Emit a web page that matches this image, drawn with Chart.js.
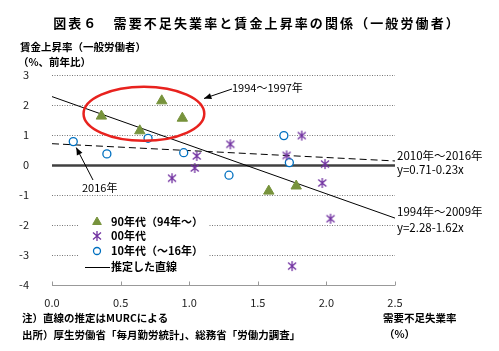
<!DOCTYPE html>
<html>
<head>
<meta charset="utf-8">
<script src="https://cdn.jsdelivr.net/npm/chart.js@4"></script>
<style>
  body { margin: 0; background: #fff; }
  canvas { display: block; }
</style>
</head>
<body>
<canvas id="myChart" width="499" height="351"></canvas>
<script>
// データ (需要不足失業率 x, 賃金上昇率 y)
const x90 = [0.36, 0.64, 0.80, 0.95, 1.58, 1.78];
const y90 = [1.63, 1.14, 2.14, 1.56, -0.87, -0.70];

const x00 = [0.875, 1.055, 1.04, 1.30, 1.71, 1.82, 1.99, 1.97, 2.03, 1.75];
const y00 = [-0.44, 0.30, -0.10, 0.69, 0.32, 0.98, 0.03, -0.60, -1.79, -3.37];

const x10 = [1.73, 1.69, 1.29, 0.96, 0.70, 0.40, 0.155];
const y10 = [0.08, 0.98, -0.34, 0.41, 0.89, 0.37, 0.78];

// 推定した直線 (両端)
const fitX = [0, 2.5];
const fit9409 = [2.28, -1.77];
const fit1016 = [0.71, 0.135];

const xTicks = [0, 0.5, 1.0, 1.5, 2.0, 2.5];
const yTicks = [3, 2, 1, 0, -1, -2, -3, -4];

const legendLabels = ['90年代（94年～）', '00年代', '10年代（～16年）', '推定した直線'];

const JP = '"Noto Sans CJK JP", sans-serif';
const GREEN = '#77933C', PURPLE = '#7030A0', BLUE = '#0070C0';

// 星印 (アスタリスク)
const star = document.createElement('canvas');
star.width = 12; star.height = 12;
(function(){
  const c = star.getContext('2d');
  c.strokeStyle = PURPLE; c.lineWidth = 1.3;
  c.beginPath();
  c.moveTo(6, 1); c.lineTo(6, 11);
  c.moveTo(2, 2.5); c.lineTo(10, 9.5);
  c.moveTo(10, 2.5); c.lineTo(2, 9.5);
  c.stroke();
})();

function pts(xs, ys){ return xs.map((x, i) => ({x: x, y: ys[i]})); }

function arrow(ctx, x1, y1, x2, y2){
  const a = Math.atan2(y2 - y1, x2 - x1);
  ctx.beginPath(); ctx.moveTo(x1, y1); ctx.lineTo(x2, y2); ctx.stroke();
  ctx.beginPath();
  ctx.moveTo(x2, y2);
  ctx.lineTo(x2 - 8 * Math.cos(a - 0.4), y2 - 8 * Math.sin(a - 0.4));
  ctx.lineTo(x2 - 8 * Math.cos(a + 0.4), y2 - 8 * Math.sin(a + 0.4));
  ctx.closePath(); ctx.fill();
}

const gridPlugin = {
  id: 'grid',
  beforeDatasetsDraw(chart){
    const ctx = chart.ctx, a = chart.chartArea;
    const xs = chart.scales.x, ys = chart.scales.y;
    ctx.save();
    yTicks.forEach(v => {
      const y = Math.round(ys.getPixelForValue(v)) + 0.5;
      ctx.beginPath();
      if (v === 0) {
        ctx.setLineDash([]); ctx.strokeStyle = '#404040'; ctx.lineWidth = 2.5;
      } else if (v === -4) {
        ctx.setLineDash([]); ctx.strokeStyle = '#999'; ctx.lineWidth = 1;
      } else {
        ctx.setLineDash([1, 1.5]); ctx.strokeStyle = '#777'; ctx.lineWidth = 1;
      }
      ctx.moveTo(a.left, y); ctx.lineTo(a.right, y); ctx.stroke();
    });
    // 目盛り線
    ctx.setLineDash([]); ctx.strokeStyle = '#999'; ctx.lineWidth = 1;
    const yb = Math.round(ys.getPixelForValue(-4)) + 0.5;
    xTicks.forEach(v => {
      const x = Math.round(xs.getPixelForValue(v)) + 0.5;
      ctx.beginPath(); ctx.moveTo(x, yb); ctx.lineTo(x, yb - 4); ctx.stroke();
    });
    ctx.restore();
  },
  afterDatasetsDraw(chart){
    const ctx = chart.ctx;
    const xs = chart.scales.x, ys = chart.scales.y;
    ctx.save();
    // 赤い楕円
    const cx = xs.getPixelForValue(0.67), cy = ys.getPixelForValue(1.71);
    const rx = xs.getPixelForValue(0.67 + 0.44) - cx;
    const ry = ys.getPixelForValue(1.71 - 0.9) - cy;
    ctx.strokeStyle = '#E8221E'; ctx.lineWidth = 2.5;
    ctx.beginPath(); ctx.ellipse(cx, cy, rx, ry, 0, 0, Math.PI * 2); ctx.stroke();

    // 矢印
    ctx.strokeStyle = '#000'; ctx.fillStyle = '#000'; ctx.lineWidth = 1;
    arrow(ctx, 232, 89, 204, 98.5);
    const px = xs.getPixelForValue(x10[x10.length - 1]), py = ys.getPixelForValue(y10[y10.length - 1]);
    arrow(ctx, 93, 180, px + 3, py + 6);

    ctx.font = '11px ' + JP;
    ctx.textBaseline = 'middle'; ctx.textAlign = 'left';
    ctx.fillText('1994～1997年', 232, 88);
    ctx.fillText('2016年', 82, 188);

    // 凡例
    ctx.fillStyle = '#fff';
    ctx.fillRect(78, 205, 130, 74);
    const rowsY = [222, 236, 251, 267];
    ctx.font = 'bold 11px ' + JP;
    ctx.fillStyle = GREEN; ctx.strokeStyle = GREEN;
    Chart.helpers.drawPoint(ctx, {pointStyle: 'triangle', radius: 5, rotation: 0, borderWidth: 1}, 97, rowsY[0]);
    Chart.helpers.drawPoint(ctx, {pointStyle: star, radius: 5, rotation: 0, borderWidth: 1}, 97, rowsY[1]);
    ctx.fillStyle = '#fff'; ctx.strokeStyle = BLUE; ctx.lineWidth = 1.3;
    Chart.helpers.drawPoint(ctx, {pointStyle: 'circle', radius: 3.5, rotation: 0, borderWidth: 1.3}, 97, rowsY[2]);
    ctx.strokeStyle = '#000'; ctx.lineWidth = 1;
    ctx.beginPath(); ctx.moveTo(85, rowsY[3] + 0.5); ctx.lineTo(110, rowsY[3] + 0.5); ctx.stroke();
    ctx.fillStyle = '#000';
    legendLabels.forEach((t, i) => ctx.fillText(t, 111, rowsY[i]));

    // 右側の式
    ctx.font = '11.5px ' + JP;
    ctx.fillText('2010年～2016年', 397, 156);
    ctx.fillText('y=0.71-0.23x', 397, 170);
    ctx.fillText('1994年～2009年', 397, 212);
    ctx.fillText('y=2.28-1.62x', 397, 228);
    ctx.restore();
  },
  afterDraw(chart){
    const ctx = chart.ctx;
    ctx.save();
    ctx.fillStyle = '#000';
    ctx.textBaseline = 'middle';
    ctx.textAlign = 'center';
    ctx.font = 'bold 13px ' + JP;
    ctx.letterSpacing = '2.1px';
    ctx.fillText('図表６　需要不足失業率と賃金上昇率の関係（一般労働者）', 257, 23);
    ctx.letterSpacing = '0px';
    ctx.textAlign = 'left';
    ctx.font = 'bold 10.5px ' + JP;
    ctx.fillText('賃金上昇率（一般労働者）', 20, 47);
    ctx.fillText('（%、前年比）', 18, 62);
    ctx.fillText('需要不足失業率', 383, 318);
    ctx.fillText('（%）', 384, 334);
    ctx.fillText('注）直線の推定はMURCによる', 22, 318);
    ctx.fillText('出所）厚生労働省「毎月勤労統計」、総務省「労働力調査」', 22, 335);
    ctx.restore();
  }
};

const ctx = document.getElementById('myChart').getContext('2d');
const myChart = new Chart(ctx, {
  type: 'scatter',
  data: {
    datasets: [
      { label: legendLabels[0], data: pts(x90, y90), pointStyle: 'triangle', pointRadius: 6,
        backgroundColor: GREEN, borderColor: GREEN, borderWidth: 1 },
      { label: legendLabels[1], data: pts(x00, y00), pointStyle: star, pointRadius: 6,
        backgroundColor: PURPLE, borderColor: PURPLE },
      { label: legendLabels[2], data: pts(x10, y10), pointStyle: 'circle', pointRadius: 4,
        backgroundColor: '#fff', borderColor: BLUE, borderWidth: 1.3 },
      { type: 'line', label: '1994-2009', data: pts(fitX, fit9409), borderColor: '#000', borderWidth: 1,
        pointRadius: 0, fill: false },
      { type: 'line', label: '2010-2016', data: pts(fitX, fit1016), borderColor: '#000', borderWidth: 1,
        borderDash: [7, 4], pointRadius: 0, fill: false }
    ]
  },
  options: {
    responsive: false,
    animation: false,
    layout: { padding: { top: 75, right: 104, left: 0, bottom: 0 } },
    plugins: { legend: { display: false }, tooltip: { enabled: false } },
    scales: {
      x: {
        type: 'linear', min: 0, max: 2.5,
        afterFit(s){ s.height = 66; },
        afterBuildTicks(s){ s.ticks = xTicks.map(v => ({value: v})); },
        ticks: { callback: v => v.toFixed(1), padding: 3, maxRotation: 0,
                 font: { family: JP, size: 11 }, color: '#222' },
        grid: { display: false }, border: { display: false }
      },
      y: {
        min: -4, max: 3,
        afterFit(s){ s.width = 52; },
        afterBuildTicks(s){ s.ticks = yTicks.map(v => ({value: v})); },
        ticks: { padding: 15, font: { family: JP, size: 11 }, color: '#222' },
        grid: { display: false }, border: { display: false }
      }
    }
  },
  plugins: [gridPlugin]
});
</script>
</body>
</html>
